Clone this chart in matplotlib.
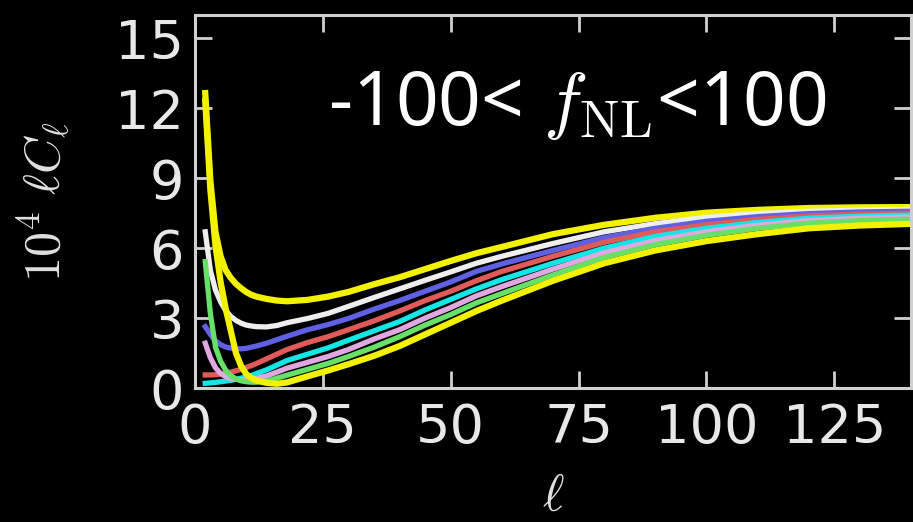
import matplotlib
matplotlib.use('Agg')
import matplotlib.pyplot as plt

# multipoles
ell = [2, 3, 4, 5, 6, 7, 8, 9, 10, 11, 12, 14, 16, 18, 22, 26, 30, 35, 40,
       45, 50, 55, 60, 70, 80, 90, 100, 110, 120, 130, 140]

# 10^4 l C_l for the different f_NL values (top to bottom at high l)
yellow_top = [12.65, 8.9, 6.7, 5.65, 5.05, 4.72, 4.47, 4.28, 4.12, 4.0, 3.92,
              3.82, 3.75, 3.72, 3.78, 3.92, 4.12, 4.45, 4.75, 5.1, 5.45, 5.78,
              6.05, 6.6, 7.0, 7.3, 7.52, 7.64, 7.72, 7.75, 7.76]
white = [6.7, 5.05, 4.2, 3.7, 3.32, 3.07, 2.9, 2.78, 2.7, 2.66, 2.63, 2.62,
         2.68, 2.8, 2.98, 3.2, 3.5, 3.88, 4.25, 4.62, 4.98, 5.35, 5.65, 6.2,
         6.7, 7.05, 7.32, 7.48, 7.58, 7.63, 7.66]
blue = [2.63, 2.3, 2.02, 1.86, 1.76, 1.71, 1.68, 1.68, 1.7, 1.75, 1.8, 1.92,
        2.07, 2.22, 2.5, 2.72, 2.98, 3.38, 3.75, 4.15, 4.55, 5.0, 5.32, 5.9,
        6.45, 6.85, 7.15, 7.35, 7.48, 7.55, 7.58]
red = [0.56, 0.56, 0.57, 0.6, 0.63, 0.68, 0.74, 0.8, 0.88, 0.96, 1.05, 1.25,
       1.45, 1.65, 1.95, 2.2, 2.5, 2.88, 3.3, 3.75, 4.15, 4.6, 5.0, 5.65,
       6.25, 6.7, 7.0, 7.23, 7.38, 7.46, 7.5]
cyan = [0.2, 0.22, 0.24, 0.27, 0.3, 0.33, 0.37, 0.42, 0.47, 0.54, 0.62, 0.78,
        0.98, 1.18, 1.45, 1.72, 2.05, 2.45, 2.85, 3.35, 3.8, 4.25, 4.65, 5.35,
        6.0, 6.5, 6.85, 7.1, 7.28, 7.37, 7.42]
pink = [1.92, 1.3, 0.87, 0.62, 0.49, 0.41, 0.37, 0.35, 0.34, 0.36, 0.41, 0.52,
        0.68, 0.85, 1.1, 1.35, 1.65, 2.1, 2.5, 3.0, 3.45, 3.95, 4.35, 5.1, 5.8,
        6.32, 6.7, 6.98, 7.18, 7.28, 7.33]
green = [5.42, 3.2, 1.75, 1.15, 0.76, 0.53, 0.39, 0.31, 0.27, 0.25, 0.25,
         0.3, 0.42, 0.55, 0.8, 1.05, 1.35, 1.75, 2.2, 2.7, 3.15, 3.65, 4.05,
         4.85, 5.6, 6.15, 6.55, 6.85, 7.07, 7.18, 7.24]
yellow_bot = [12.3, 8.5, 6.1, 4.55, 3.4, 2.45, 1.5, 0.95, 0.6, 0.43, 0.32,
              0.22, 0.18, 0.24, 0.5, 0.75, 1.02, 1.38, 1.8, 2.3, 2.8, 3.3,
              3.75, 4.6, 5.35, 5.9, 6.3, 6.6, 6.85, 6.97, 7.04]

xticks = [0, 25, 50, 75, 100, 125]
yticks = [0, 3, 6, 9, 12, 15]

plt.rcParams['mathtext.fontset'] = 'cm'

fig = plt.figure(figsize=(9.13, 5.22), dpi=100, facecolor='black')
ax = fig.add_axes([0.2136, 0.2567, 0.7842, 0.7146], facecolor='black')

curves = [(yellow_top, '#f2f200', 4.5), (white, '#eeeeee', 3.8),
          (blue, '#6060e2', 3.8), (red, '#e05a5a', 3.8),
          (cyan, '#14e6e6', 3.8), (pink, '#e0a8e0', 3.8),
          (green, '#66e066', 3.8), (yellow_bot, '#f2f200', 4.5)]
for vals, col, lw in curves:
    ax.plot(ell, vals, color=col, lw=lw, solid_joinstyle='round')

ax.set_xlim(0, 140)
ax.set_ylim(0, 16)
ax.set_xticks(xticks)
ax.set_yticks(yticks)

for s in ax.spines.values():
    s.set_color('#d0d0d0')
    s.set_linewidth(2.2)
ax.tick_params(direction='in', length=12, width=2, color='#d0d0d0',
               top=True, right=True, labelsize=39, labelcolor='#e8e8e8')
ax.tick_params(axis='x', pad=10)
ax.tick_params(axis='y', pad=8)

ax.set_xlabel(r'$\ell$', fontsize=37, color='#e0e0e0', labelpad=13)
ax.set_ylabel(r'$10^4\ \ell C_\ell$', fontsize=36, color='#e0e0e0',
              labelpad=30)

ax.text(26.0, 11.3, r'-100< $f_{\rm NL}$<100', fontsize=54,
        family='Noto Sans', color='white', ha='left', va='baseline')

fig.savefig('out.png', dpi=100, facecolor='black')
